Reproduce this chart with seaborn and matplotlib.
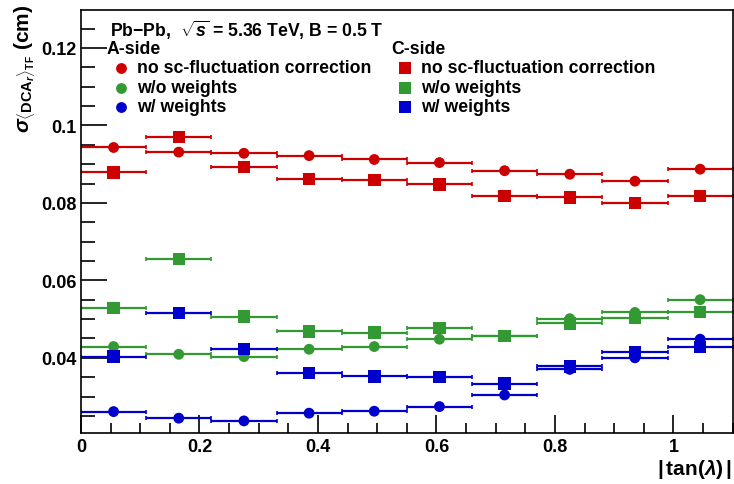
import numpy as np
import pandas as pd
import matplotlib
matplotlib.use("Agg")
import matplotlib.pyplot as plt
import seaborn as sns
from matplotlib.ticker import MultipleLocator
from matplotlib.lines import Line2D

# ---------------- data ----------------
bin_edges = [0.0, 0.11, 0.22, 0.33, 0.44, 0.55, 0.66, 0.77, 0.88, 0.99, 1.10]
tanl = [0.055, 0.165, 0.275, 0.385, 0.495, 0.605, 0.715, 0.825, 0.935, 1.045]

a_nocorr = [0.0943, 0.0931, 0.0928, 0.0922, 0.0912, 0.0904, 0.0883, 0.0874, 0.0856, 0.0887]
a_wo_w   = [0.0429, 0.0409, 0.0403, 0.0422, 0.0429, 0.0448, 0.0457, 0.0501, 0.0517, 0.0550]
a_w_w    = [0.0261, 0.0244, 0.0237, 0.0257, 0.0262, 0.0274, 0.0304, 0.0370, 0.0400, 0.0448]

c_nocorr = [0.0879, 0.0970, 0.0892, 0.0861, 0.0859, 0.0848, 0.0818, 0.0814, 0.0800, 0.0818]
c_wo_w   = [0.0528, 0.0655, 0.0506, 0.0468, 0.0465, 0.0477, 0.0456, 0.0489, 0.0504, 0.0518]
c_w_w    = [0.0403, 0.0516, 0.0423, 0.0361, 0.0352, 0.0351, 0.0333, 0.0378, 0.0415, 0.0428]

corrections = ["no sc-fluctuation correction", "w/o weights", "w/ weights"]
sides = ["A-side", "C-side"]
colors = {"no sc-fluctuation correction": "#cc0000",
          "w/o weights": "#339933",
          "w/ weights": "#0000cc"}
markers = {"A-side": "o", "C-side": "s"}
msizes = {"A-side": 7.8, "C-side": 9.0}

series = {("A-side", corrections[0]): a_nocorr,
          ("A-side", corrections[1]): a_wo_w,
          ("A-side", corrections[2]): a_w_w,
          ("C-side", corrections[0]): c_nocorr,
          ("C-side", corrections[1]): c_wo_w,
          ("C-side", corrections[2]): c_w_w}

rows = []
halfw = np.diff(bin_edges) / 2
for (side, corr), vals in series.items():
    for x, y, hw in zip(tanl, vals, halfw):
        rows.append({"tanl": x, "sigma": y, "hw": hw, "side": side, "corr": corr})
df = pd.DataFrame(rows)

# ---------------- plot ----------------
sns.set_theme(style="ticks")
plt.rcParams["font.family"] = ["Liberation Sans", "DejaVu Sans"]
plt.rcParams["font.weight"] = "bold"
plt.rcParams["text.color"] = "black"
plt.rcParams["axes.labelcolor"] = "black"
plt.rcParams["xtick.color"] = "black"
plt.rcParams["ytick.color"] = "black"
plt.rcParams["mathtext.fontset"] = "custom"
plt.rcParams["mathtext.rm"] = "Liberation Sans:bold"
plt.rcParams["mathtext.bf"] = "Liberation Sans:bold"
plt.rcParams["mathtext.it"] = "Liberation Sans:italic"

fig = plt.figure(figsize=(7.34, 4.85), dpi=100)
ax = fig.add_axes([81/734, 1 - 434.3/485, (732.7 - 81)/734, (434.3 - 11)/485])

# horizontal bin-width bars
for (side, corr), sub in df.groupby(["side", "corr"]):
    ax.errorbar(sub["tanl"], sub["sigma"], xerr=sub["hw"], fmt="none",
                ecolor=colors[corr], elinewidth=1.6, capsize=1.2, capthick=1.2,
                zorder=2)

# markers
for side in sides:
    sub = df[df["side"] == side]
    sns.scatterplot(data=sub, x="tanl", y="sigma", hue="corr", palette=colors,
                    marker=markers[side], s=msizes[side]**2, linewidth=0,
                    legend=False, ax=ax, zorder=3)

ax.set_xlim(0, 1.10)
ax.set_ylim(0.0205, 0.1298)
ax.xaxis.set_major_locator(MultipleLocator(0.2))
ax.xaxis.set_minor_locator(MultipleLocator(0.05))
ax.yaxis.set_major_locator(MultipleLocator(0.02))
ax.yaxis.set_minor_locator(MultipleLocator(0.005))
ax.xaxis.set_major_formatter(plt.FuncFormatter(
    lambda v, p: "0" if abs(v) < 1e-9 else ("1" if abs(v - 1) < 1e-9 else f"{v:.1f}")))
ax.yaxis.set_major_formatter(plt.FuncFormatter(lambda v, p: f"{v:g}"))
ax.tick_params(axis="both", which="both", direction="in", width=1.2, colors="black",
               labelsize=13)
ax.tick_params(axis="y", which="major", length=19, pad=3.5)
ax.tick_params(axis="y", which="minor", length=10)
ax.tick_params(axis="x", which="major", length=13, pad=3.5)
ax.tick_params(axis="x", which="minor", length=7)
for lab in ax.get_xticklabels() + ax.get_yticklabels():
    lab.set_fontweight("bold")
for sp in ax.spines.values():
    sp.set_linewidth(1.2)
    sp.set_color("black")
ax.set_xlabel("")
ax.set_ylabel("")

# axis titles
fig.text(732/734, 1 - 470/485, r"$|\,$tan$(\lambda)\,|$", ha="right", va="center",
         fontsize=15, fontweight="bold")
fig.text(25/734, 1 - 69/485,
         r"$\sigma_{\langle \mathrm{DCA}_{r}\rangle_{\mathrm{TF}}}$ (cm)",
         rotation=90, ha="center", va="center", fontsize=15, fontweight="bold")

# legend block
def ftxt(px, py, s, **kw):
    fig.text(px/734, 1 - py/485, s, va="center", fontsize=12.7, fontweight="bold", **kw)

ftxt(110, 30, r"Pb$-$Pb,  $\sqrt{s}$ = 5.36 TeV, B = 0.5 T")
ftxt(107, 49, "A-side")
ftxt(391, 49, "C-side")
entry_y = [69, 88.5, 108]
for side, mx, tx in [("A-side", 121, 137), ("C-side", 405, 421)]:
    for corr, py in zip(corrections, entry_y):
        fig.lines.append(Line2D([mx/734], [1 - py/485], transform=fig.transFigure,
                                marker=markers[side], markersize=msizes[side],
                                color=colors[corr], markeredgewidth=0, linestyle="none"))
        ftxt(tx, py, corr)

fig.savefig("out.png", dpi=100)
